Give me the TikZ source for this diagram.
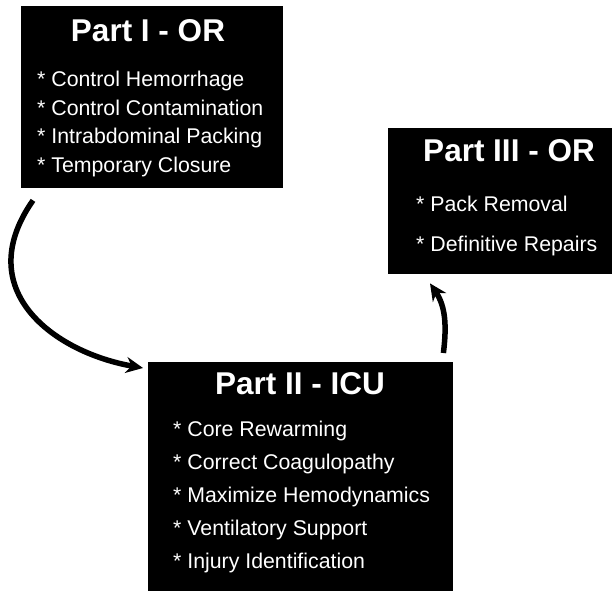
\documentclass[tikz,border=0pt]{standalone}
\usepackage{fontspec}
\setmainfont{Liberation Sans}
\usepackage{tikz}
\usetikzlibrary{calc, arrows.meta}

\begin{document}
\begin{tikzpicture}[x=1bp, y=1bp,
    box/.style={fill=black, inner sep=0pt, anchor=north west},
    title/.style={text=white, inner sep=0pt, anchor=base, font=\bfseries\fontsize{31.5bp}{36bp}\selectfont},
    item/.style={text=white, inner sep=0pt, anchor=base west, font=\fontsize{21.3bp}{24bp}\selectfont},
    flow/.style={line width=5.5bp, -{Stealth[length=17bp, width=16bp]}}]
    \useasboundingbox (0,0) rectangle (612,591);

    % riquadri
    \node[box, minimum width=262bp, minimum height=182bp] (partI) at (21,585) {};
    \node[box, minimum width=224bp, minimum height=146bp] (partIII) at (388,463) {};
    \node[box, minimum width=305bp, minimum height=229bp] (partII) at (148,229) {};

    % parte I
    \node[title] (tI) at (148,549) {Part I - OR};
    \foreach \txt [count=\i] in {Control Hemorrhage, Control Contamination,
        Intrabdominal Packing, Temporary Closure}
        \node[item] (I-\i) at (37,{504-28.4*(\i-1)}) {* \txt};

    % parte II
    \node[title] (tII) at (300,196) {Part II - ICU};
    \foreach \txt [count=\i] in {Core Rewarming, Correct Coagulopathy,
        Maximize Hemodynamics, Ventilatory Support, Injury Identification}
        \node[item] (II-\i) at (173,{154-33*(\i-1)}) {* \txt};

    % parte III
    \node[title] (tIII) at (509,429) {Part III - OR};
    \foreach \txt [count=\i] in {Pack Removal, Definitive Repairs}
        \node[item] (III-\i) at (416,{379-40*(\i-1)}) {* \txt};

    % frecce
    \coordinate (a1) at ([shift={(12,-12)}]partI.south west);
    \coordinate (b1) at ([shift={(-5,-6)}]partII.north west);
    \draw[flow] (a1) to[out=235, in=170, out distance=110bp, in distance=90bp] (b1);

    \coordinate (a2) at ([shift={(-10,9)}]partII.north east);
    \coordinate (b2) at ([shift={(42,-9)}]partIII.south west);
    \draw[flow] (a2) to[out=83, in=304] (b2);
\end{tikzpicture}
\end{document}
